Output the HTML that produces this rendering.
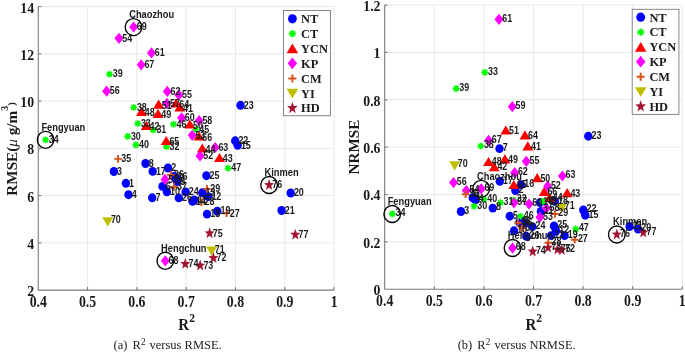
<!DOCTYPE html>
<html><head><meta charset="utf-8"><style>
html,body{margin:0;padding:0;background:#fff;}
body{width:685px;height:352px;overflow:hidden;}
svg{display:block;filter:blur(0.25px);}
</style></head><body>
<svg width="685" height="352" viewBox="0 0 685 352">
<style>
.gr{stroke:#e6e6e6;stroke-width:0.9}
.ax{stroke:#7a7a7a;stroke-width:1.1}
.tk{font-family:"Liberation Serif",serif;font-weight:bold;font-size:13.8px;fill:#1a1a1a}
.yl{font-family:"Liberation Serif",serif;font-weight:bold;font-size:15.2px;fill:#1a1a1a}
.xl{font-family:"Liberation Serif",serif;font-weight:bold;font-size:15px;fill:#1a1a1a}
.cap{font-family:"Liberation Serif",serif;font-size:12.5px;fill:#222}
.lb{font-family:"Liberation Sans",sans-serif;font-weight:bold;font-size:10.9px;fill:#1a1a1a}
.an{font-family:"Liberation Sans",sans-serif;font-weight:bold;font-size:9.3px;fill:#1a1a1a}
.lg{font-family:"Liberation Serif",serif;font-weight:bold;font-size:12.4px;fill:#1a1a1a}
</style>
<rect width="685" height="352" fill="#fff"/>
<line x1="87.56" y1="290.1" x2="87.56" y2="6.6" class="gr"/>
<line x1="136.87" y1="290.1" x2="136.87" y2="6.6" class="gr"/>
<line x1="186.18" y1="290.1" x2="186.18" y2="6.6" class="gr"/>
<line x1="235.48" y1="290.1" x2="235.48" y2="6.6" class="gr"/>
<line x1="284.79" y1="290.1" x2="284.79" y2="6.6" class="gr"/>
<line x1="334.1" y1="290.1" x2="334.1" y2="6.6" class="gr"/>
<line x1="38.25" y1="242.85" x2="334.1" y2="242.85" class="gr"/>
<line x1="38.25" y1="195.6" x2="334.1" y2="195.6" class="gr"/>
<line x1="38.25" y1="148.35" x2="334.1" y2="148.35" class="gr"/>
<line x1="38.25" y1="101.1" x2="334.1" y2="101.1" class="gr"/>
<line x1="38.25" y1="53.85" x2="334.1" y2="53.85" class="gr"/>
<line x1="38.25" y1="6.6" x2="334.1" y2="6.6" class="gr"/>
<line x1="87.56" y1="290.1" x2="87.56" y2="287.1" class="ax"/>
<line x1="136.87" y1="290.1" x2="136.87" y2="287.1" class="ax"/>
<line x1="186.18" y1="290.1" x2="186.18" y2="287.1" class="ax"/>
<line x1="235.48" y1="290.1" x2="235.48" y2="287.1" class="ax"/>
<line x1="284.79" y1="290.1" x2="284.79" y2="287.1" class="ax"/>
<line x1="334.1" y1="290.1" x2="334.1" y2="287.1" class="ax"/>
<line x1="38.25" y1="242.85" x2="41.25" y2="242.85" class="ax"/>
<line x1="38.25" y1="195.6" x2="41.25" y2="195.6" class="ax"/>
<line x1="38.25" y1="148.35" x2="41.25" y2="148.35" class="ax"/>
<line x1="38.25" y1="101.1" x2="41.25" y2="101.1" class="ax"/>
<line x1="38.25" y1="53.85" x2="41.25" y2="53.85" class="ax"/>
<line x1="38.25" y1="6.6" x2="41.25" y2="6.6" class="ax"/>
<path d="M38.25 6.6V290.1H334.1" class="ax" fill="none"/>
<text transform="translate(38.25 306.9) scale(1 1.15)" class="tk" text-anchor="middle">0.4</text>
<text transform="translate(87.56 306.9) scale(1 1.15)" class="tk" text-anchor="middle">0.5</text>
<text transform="translate(136.87 306.9) scale(1 1.15)" class="tk" text-anchor="middle">0.6</text>
<text transform="translate(186.18 306.9) scale(1 1.15)" class="tk" text-anchor="middle">0.7</text>
<text transform="translate(235.48 306.9) scale(1 1.15)" class="tk" text-anchor="middle">0.8</text>
<text transform="translate(284.79 306.9) scale(1 1.15)" class="tk" text-anchor="middle">0.9</text>
<text transform="translate(334.1 306.9) scale(1 1.15)" class="tk" text-anchor="middle">1</text>
<text transform="translate(34.05 296) scale(1 1.08)" class="tk" text-anchor="end">2</text>
<text transform="translate(34.05 248.75) scale(1 1.08)" class="tk" text-anchor="end">4</text>
<text transform="translate(34.05 201.5) scale(1 1.08)" class="tk" text-anchor="end">6</text>
<text transform="translate(34.05 154.25) scale(1 1.08)" class="tk" text-anchor="end">8</text>
<text transform="translate(34.05 107) scale(1 1.08)" class="tk" text-anchor="end">10</text>
<text transform="translate(34.05 59.75) scale(1 1.08)" class="tk" text-anchor="end">12</text>
<text transform="translate(34.05 12.5) scale(1 1.08)" class="tk" text-anchor="end">14</text>
<line x1="434.3" y1="289.2" x2="434.3" y2="5" class="gr"/>
<line x1="483.9" y1="289.2" x2="483.9" y2="5" class="gr"/>
<line x1="533.5" y1="289.2" x2="533.5" y2="5" class="gr"/>
<line x1="583.1" y1="289.2" x2="583.1" y2="5" class="gr"/>
<line x1="632.7" y1="289.2" x2="632.7" y2="5" class="gr"/>
<line x1="682.3" y1="289.2" x2="682.3" y2="5" class="gr"/>
<line x1="384.7" y1="241.83" x2="682.3" y2="241.83" class="gr"/>
<line x1="384.7" y1="194.47" x2="682.3" y2="194.47" class="gr"/>
<line x1="384.7" y1="147.1" x2="682.3" y2="147.1" class="gr"/>
<line x1="384.7" y1="99.73" x2="682.3" y2="99.73" class="gr"/>
<line x1="384.7" y1="52.37" x2="682.3" y2="52.37" class="gr"/>
<line x1="384.7" y1="5" x2="682.3" y2="5" class="gr"/>
<line x1="434.3" y1="289.2" x2="434.3" y2="286.2" class="ax"/>
<line x1="483.9" y1="289.2" x2="483.9" y2="286.2" class="ax"/>
<line x1="533.5" y1="289.2" x2="533.5" y2="286.2" class="ax"/>
<line x1="583.1" y1="289.2" x2="583.1" y2="286.2" class="ax"/>
<line x1="632.7" y1="289.2" x2="632.7" y2="286.2" class="ax"/>
<line x1="682.3" y1="289.2" x2="682.3" y2="286.2" class="ax"/>
<line x1="384.7" y1="241.83" x2="387.7" y2="241.83" class="ax"/>
<line x1="384.7" y1="194.47" x2="387.7" y2="194.47" class="ax"/>
<line x1="384.7" y1="147.1" x2="387.7" y2="147.1" class="ax"/>
<line x1="384.7" y1="99.73" x2="387.7" y2="99.73" class="ax"/>
<line x1="384.7" y1="52.37" x2="387.7" y2="52.37" class="ax"/>
<line x1="384.7" y1="5" x2="387.7" y2="5" class="ax"/>
<path d="M384.7 5V289.2H682.3" class="ax" fill="none"/>
<text transform="translate(384.7 306) scale(1 1.15)" class="tk" text-anchor="middle">0.4</text>
<text transform="translate(434.3 306) scale(1 1.15)" class="tk" text-anchor="middle">0.5</text>
<text transform="translate(483.9 306) scale(1 1.15)" class="tk" text-anchor="middle">0.6</text>
<text transform="translate(533.5 306) scale(1 1.15)" class="tk" text-anchor="middle">0.7</text>
<text transform="translate(583.1 306) scale(1 1.15)" class="tk" text-anchor="middle">0.8</text>
<text transform="translate(632.7 306) scale(1 1.15)" class="tk" text-anchor="middle">0.9</text>
<text transform="translate(682.3 306) scale(1 1.15)" class="tk" text-anchor="middle">1</text>
<text transform="translate(380.5 295.1) scale(1 1.08)" class="tk" text-anchor="end">0</text>
<text transform="translate(380.5 247.73) scale(1 1.08)" class="tk" text-anchor="end">0.2</text>
<text transform="translate(380.5 200.37) scale(1 1.08)" class="tk" text-anchor="end">0.4</text>
<text transform="translate(380.5 153) scale(1 1.08)" class="tk" text-anchor="end">0.6</text>
<text transform="translate(380.5 105.63) scale(1 1.08)" class="tk" text-anchor="end">0.8</text>
<text transform="translate(380.5 58.27) scale(1 1.08)" class="tk" text-anchor="end">1</text>
<text transform="translate(380.5 10.9) scale(1 1.08)" class="tk" text-anchor="end">1.2</text>
<ellipse cx="240.5" cy="105.3" rx="4.2" ry="4.45" fill="#0000ff"/>
<ellipse cx="235.2" cy="140.8" rx="4.2" ry="4.45" fill="#0000ff"/>
<ellipse cx="237.7" cy="145.3" rx="4.2" ry="4.45" fill="#0000ff"/>
<ellipse cx="113.9" cy="171.5" rx="4.2" ry="4.45" fill="#0000ff"/>
<ellipse cx="125.9" cy="183.3" rx="4.2" ry="4.45" fill="#0000ff"/>
<ellipse cx="128.5" cy="194.7" rx="4.2" ry="4.45" fill="#0000ff"/>
<ellipse cx="145.5" cy="163.5" rx="4.2" ry="4.45" fill="#0000ff"/>
<ellipse cx="152.7" cy="171.4" rx="4.2" ry="4.45" fill="#0000ff"/>
<ellipse cx="152.2" cy="197.8" rx="4.2" ry="4.45" fill="#0000ff"/>
<ellipse cx="168" cy="168" rx="4.2" ry="4.45" fill="#0000ff"/>
<ellipse cx="174.4" cy="176.5" rx="4.2" ry="4.45" fill="#0000ff"/>
<ellipse cx="177.2" cy="181.5" rx="4.2" ry="4.45" fill="#0000ff"/>
<ellipse cx="162.5" cy="186.4" rx="4.2" ry="4.45" fill="#0000ff"/>
<ellipse cx="166.9" cy="191.8" rx="4.2" ry="4.45" fill="#0000ff"/>
<ellipse cx="185.6" cy="191.9" rx="4.2" ry="4.45" fill="#0000ff"/>
<ellipse cx="178.8" cy="197.9" rx="4.2" ry="4.45" fill="#0000ff"/>
<ellipse cx="192.5" cy="201.3" rx="4.2" ry="4.45" fill="#0000ff"/>
<ellipse cx="194.2" cy="200" rx="4.2" ry="4.45" fill="#0000ff"/>
<ellipse cx="202.3" cy="192.8" rx="4.2" ry="4.45" fill="#0000ff"/>
<ellipse cx="208.2" cy="196.6" rx="4.2" ry="4.45" fill="#0000ff"/>
<ellipse cx="206.4" cy="175.7" rx="4.2" ry="4.45" fill="#0000ff"/>
<ellipse cx="217.3" cy="211.2" rx="4.2" ry="4.45" fill="#0000ff"/>
<ellipse cx="207" cy="214.1" rx="4.2" ry="4.45" fill="#0000ff"/>
<ellipse cx="281.6" cy="210.5" rx="4.2" ry="4.45" fill="#0000ff"/>
<ellipse cx="290.7" cy="193" rx="4.2" ry="4.45" fill="#0000ff"/>
<ellipse cx="176" cy="178.5" rx="4.2" ry="4.45" fill="#0000ff"/>
<path d="M106.7 74.2H112.3M109.5 71.4V77M107.52 72.22L111.48 76.18M107.52 76.18L111.48 72.22" stroke="#00ff00" stroke-width="1.6" stroke-linecap="round" fill="none"/>
<path d="M130.9 107.5H136.5M133.7 104.7V110.3M131.72 105.52L135.68 109.48M131.72 109.48L135.68 105.52" stroke="#00ff00" stroke-width="1.6" stroke-linecap="round" fill="none"/>
<path d="M134.9 123.5H140.5M137.7 120.7V126.3M135.72 121.52L139.68 125.48M135.72 125.48L139.68 121.52" stroke="#00ff00" stroke-width="1.6" stroke-linecap="round" fill="none"/>
<path d="M150.4 129.9H156M153.2 127.1V132.7M151.22 127.92L155.18 131.88M151.22 131.88L155.18 127.92" stroke="#00ff00" stroke-width="1.6" stroke-linecap="round" fill="none"/>
<path d="M124.9 136.4H130.5M127.7 133.6V139.2M125.72 134.42L129.68 138.38M125.72 138.38L129.68 134.42" stroke="#00ff00" stroke-width="1.6" stroke-linecap="round" fill="none"/>
<path d="M133.1 144.9H138.7M135.9 142.1V147.7M133.92 142.92L137.88 146.88M133.92 146.88L137.88 142.92" stroke="#00ff00" stroke-width="1.6" stroke-linecap="round" fill="none"/>
<path d="M163.6 146.6H169.2M166.4 143.8V149.4M164.42 144.62L168.38 148.58M164.42 148.58L168.38 144.62" stroke="#00ff00" stroke-width="1.6" stroke-linecap="round" fill="none"/>
<path d="M170.6 124.3H176.2M173.4 121.5V127.1M171.42 122.32L175.38 126.28M171.42 126.28L175.38 122.32" stroke="#00ff00" stroke-width="1.6" stroke-linecap="round" fill="none"/>
<path d="M193.2 129.5H198.8M196 126.7V132.3M194.02 127.52L197.98 131.48M194.02 131.48L197.98 127.52" stroke="#00ff00" stroke-width="1.6" stroke-linecap="round" fill="none"/>
<path d="M225.2 168.2H230.8M228 165.4V171M226.02 166.22L229.98 170.18M226.02 170.18L229.98 166.22" stroke="#00ff00" stroke-width="1.6" stroke-linecap="round" fill="none"/>
<path d="M42.8 139.8H48.4M45.6 137V142.6M43.62 137.82L47.58 141.78M43.62 141.78L47.58 137.82" stroke="#00ff00" stroke-width="1.6" stroke-linecap="round" fill="none"/>
<path d="M141.5 106.7L147 115.9L136 115.9Z" fill="#ff0000"/>
<path d="M158.6 99.6L164.1 108.8L153.1 108.8Z" fill="#ff0000"/>
<path d="M158 108.8L163.5 118L152.5 118Z" fill="#ff0000"/>
<path d="M176 98.4L181.5 107.6L170.5 107.6Z" fill="#ff0000"/>
<path d="M179.8 102.4L185.3 111.6L174.3 111.6Z" fill="#ff0000"/>
<path d="M146.3 120.9L151.8 130.1L140.8 130.1Z" fill="#ff0000"/>
<path d="M189.8 119.4L195.3 128.6L184.3 128.6Z" fill="#ff0000"/>
<path d="M166.2 135.9L171.7 145.1L160.7 145.1Z" fill="#ff0000"/>
<path d="M202.3 143.4L207.8 152.6L196.8 152.6Z" fill="#ff0000"/>
<path d="M219.5 152.9L225 162.1L214 162.1Z" fill="#ff0000"/>
<path d="M199 131.4L204.5 140.6L193.5 140.6Z" fill="#ff0000"/>
<path d="M133.6 21.4L138.1 27L133.6 32.6L129.1 27Z" fill="#ff00ff"/>
<path d="M119 32.7L123.5 38.3L119 43.9L114.5 38.3Z" fill="#ff00ff"/>
<path d="M151.5 47.3L156 52.9L151.5 58.5L147 52.9Z" fill="#ff00ff"/>
<path d="M141.2 59.2L145.7 64.8L141.2 70.4L136.7 64.8Z" fill="#ff00ff"/>
<path d="M106.6 85.6L111.1 91.2L106.6 96.8L102.1 91.2Z" fill="#ff00ff"/>
<path d="M167.3 85.8L171.8 91.4L167.3 97L162.8 91.4Z" fill="#ff00ff"/>
<path d="M178.9 89.3L183.4 94.9L178.9 100.5L174.4 94.9Z" fill="#ff00ff"/>
<path d="M166.9 97.8L171.4 103.4L166.9 109L162.4 103.4Z" fill="#ff00ff"/>
<path d="M181.6 112.2L186.1 117.8L181.6 123.4L177.1 117.8Z" fill="#ff00ff"/>
<path d="M199.2 115L203.7 120.6L199.2 126.2L194.7 120.6Z" fill="#ff00ff"/>
<path d="M192.2 129.7L196.7 135.3L192.2 140.9L187.7 135.3Z" fill="#ff00ff"/>
<path d="M200 150.3L204.5 155.9L200 161.5L195.5 155.9Z" fill="#ff00ff"/>
<path d="M215.2 141.9L219.7 147.5L215.2 153.1L210.7 147.5Z" fill="#ff00ff"/>
<path d="M165 173.8L169.5 179.4L165 185L160.5 179.4Z" fill="#ff00ff"/>
<path d="M165.3 255.2L169.8 260.8L165.3 266.4L160.8 260.8Z" fill="#ff00ff"/>
<path d="M114.2 158.9H121.8M118 155.1V162.7" stroke="#d95319" stroke-width="1.9" fill="none"/>
<path d="M167.1 174.9H174.7M170.9 171.1V178.7" stroke="#d95319" stroke-width="1.9" fill="none"/>
<path d="M170.1 186.9H177.7M173.9 183.1V190.7" stroke="#d95319" stroke-width="1.9" fill="none"/>
<path d="M203.2 188.9H210.8M207 185.1V192.7" stroke="#d95319" stroke-width="1.9" fill="none"/>
<path d="M197.6 202.1H205.2M201.4 198.3V205.9" stroke="#d95319" stroke-width="1.9" fill="none"/>
<path d="M222.8 213.3H230.4M226.6 209.5V217.1" stroke="#d95319" stroke-width="1.9" fill="none"/>
<path d="M102.2 217.2L113.2 217.2L107.7 226.4Z" fill="#bfbf00"/>
<path d="M206.1 246.6L217.1 246.6L211.6 255.8Z" fill="#bfbf00"/>
<path d="M209.6 227.25L210.88 231.29L214.66 231.43L211.68 234.07L212.73 238.19L209.6 235.78L206.47 238.19L207.52 234.07L204.54 231.43L208.32 231.29Z" fill="#a2142f"/>
<path d="M185.3 257.85L186.58 261.89L190.36 262.03L187.38 264.67L188.43 268.79L185.3 266.38L182.17 268.79L183.22 264.67L180.24 262.03L184.02 261.89Z" fill="#a2142f"/>
<path d="M200.2 259.45L201.48 263.49L205.26 263.63L202.28 266.27L203.33 270.39L200.2 267.98L197.07 270.39L198.12 266.27L195.14 263.63L198.92 263.49Z" fill="#a2142f"/>
<path d="M213.4 252.05L214.68 256.09L218.46 256.23L215.48 258.87L216.53 262.99L213.4 260.58L210.27 262.99L211.32 258.87L208.34 256.23L212.12 256.09Z" fill="#a2142f"/>
<path d="M269.1 178.95L270.38 182.99L274.16 183.13L271.18 185.77L272.23 189.89L269.1 187.48L265.97 189.89L267.02 185.77L264.04 183.13L267.82 182.99Z" fill="#a2142f"/>
<path d="M295.3 228.65L296.58 232.69L300.36 232.83L297.38 235.47L298.43 239.59L295.3 237.18L292.17 239.59L293.22 235.47L290.24 232.83L294.02 232.69Z" fill="#a2142f"/>
<text transform="translate(243.7 108.5) scale(0.82 1)" class="lb">23</text>
<text transform="translate(238.4 144) scale(0.82 1)" class="lb">22</text>
<text transform="translate(240.9 148.5) scale(0.82 1)" class="lb">15</text>
<text transform="translate(117.1 174.7) scale(0.82 1)" class="lb">3</text>
<text transform="translate(129.1 186.5) scale(0.82 1)" class="lb">1</text>
<text transform="translate(131.7 197.9) scale(0.82 1)" class="lb">4</text>
<text transform="translate(148.7 166.7) scale(0.82 1)" class="lb">8</text>
<text transform="translate(155.9 174.6) scale(0.82 1)" class="lb">17</text>
<text transform="translate(155.4 201) scale(0.82 1)" class="lb">7</text>
<text transform="translate(171.2 171.2) scale(0.82 1)" class="lb">2</text>
<text transform="translate(177.6 179.7) scale(0.82 1)" class="lb">16</text>
<text transform="translate(180.4 184.7) scale(0.82 1)" class="lb">5</text>
<text transform="translate(165.7 189.6) scale(0.82 1)" class="lb">6</text>
<text transform="translate(170.1 195) scale(0.82 1)" class="lb">10</text>
<text transform="translate(188.8 195.1) scale(0.82 1)" class="lb">24</text>
<text transform="translate(182 201.1) scale(0.82 1)" class="lb">26</text>
<text transform="translate(195.7 204.5) scale(0.82 1)" class="lb">14</text>
<text transform="translate(197.4 203.2) scale(0.82 1)" class="lb">11</text>
<text transform="translate(205.5 196) scale(0.82 1)" class="lb">13</text>
<text transform="translate(211.4 199.8) scale(0.82 1)" class="lb">12</text>
<text transform="translate(209.6 178.9) scale(0.82 1)" class="lb">25</text>
<text transform="translate(220.5 214.4) scale(0.82 1)" class="lb">19</text>
<text transform="translate(210.2 217.3) scale(0.82 1)" class="lb">18</text>
<text transform="translate(284.8 213.7) scale(0.82 1)" class="lb">21</text>
<text transform="translate(293.9 196.2) scale(0.82 1)" class="lb">20</text>
<text transform="translate(179.2 181.7) scale(0.82 1)" class="lb">9</text>
<text transform="translate(112.7 77.4) scale(0.82 1)" class="lb">39</text>
<text transform="translate(136.9 110.7) scale(0.82 1)" class="lb">38</text>
<text transform="translate(140.9 126.7) scale(0.82 1)" class="lb">33</text>
<text transform="translate(156.4 133.1) scale(0.82 1)" class="lb">31</text>
<text transform="translate(130.9 139.6) scale(0.82 1)" class="lb">30</text>
<text transform="translate(139.1 148.1) scale(0.82 1)" class="lb">40</text>
<text transform="translate(169.6 149.8) scale(0.82 1)" class="lb">32</text>
<text transform="translate(176.6 127.5) scale(0.82 1)" class="lb">46</text>
<text transform="translate(199.2 132.7) scale(0.82 1)" class="lb">45</text>
<text transform="translate(231.2 171.4) scale(0.82 1)" class="lb">47</text>
<text transform="translate(48.8 143) scale(0.82 1)" class="lb">34</text>
<text transform="translate(144.7 116.03) scale(0.82 1)" class="lb">48</text>
<text transform="translate(161.8 108.93) scale(0.82 1)" class="lb">51</text>
<text transform="translate(161.2 118.13) scale(0.82 1)" class="lb">49</text>
<text transform="translate(179.2 107.73) scale(0.82 1)" class="lb">64</text>
<text transform="translate(183 111.73) scale(0.82 1)" class="lb">41</text>
<text transform="translate(149.5 130.23) scale(0.82 1)" class="lb">42</text>
<text transform="translate(193 128.73) scale(0.82 1)" class="lb">50</text>
<text transform="translate(169.4 145.23) scale(0.82 1)" class="lb">65</text>
<text transform="translate(205.5 152.73) scale(0.82 1)" class="lb">44</text>
<text transform="translate(222.7 162.23) scale(0.82 1)" class="lb">43</text>
<text transform="translate(202.2 140.73) scale(0.82 1)" class="lb">66</text>
<text transform="translate(136.8 30.2) scale(0.82 1)" class="lb">69</text>
<text transform="translate(122.2 41.5) scale(0.82 1)" class="lb">54</text>
<text transform="translate(154.7 56.1) scale(0.82 1)" class="lb">61</text>
<text transform="translate(144.4 68) scale(0.82 1)" class="lb">67</text>
<text transform="translate(109.8 94.4) scale(0.82 1)" class="lb">56</text>
<text transform="translate(170.5 94.6) scale(0.82 1)" class="lb">62</text>
<text transform="translate(182.1 98.1) scale(0.82 1)" class="lb">55</text>
<text transform="translate(170.1 106.6) scale(0.82 1)" class="lb">57</text>
<text transform="translate(184.8 121) scale(0.82 1)" class="lb">60</text>
<text transform="translate(202.4 123.8) scale(0.82 1)" class="lb">58</text>
<text transform="translate(195.4 138.5) scale(0.82 1)" class="lb">53</text>
<text transform="translate(203.2 159.1) scale(0.82 1)" class="lb">52</text>
<text transform="translate(218.4 150.7) scale(0.82 1)" class="lb">63</text>
<text transform="translate(168.2 182.6) scale(0.82 1)" class="lb">59</text>
<text transform="translate(168.5 264) scale(0.82 1)" class="lb">68</text>
<text transform="translate(121.2 162.1) scale(0.82 1)" class="lb">35</text>
<text transform="translate(174.1 178.1) scale(0.82 1)" class="lb">36</text>
<text transform="translate(177.1 190.1) scale(0.82 1)" class="lb">37</text>
<text transform="translate(210.2 192.1) scale(0.82 1)" class="lb">29</text>
<text transform="translate(204.6 205.3) scale(0.82 1)" class="lb">28</text>
<text transform="translate(229.8 216.5) scale(0.82 1)" class="lb">27</text>
<text transform="translate(110.9 223.47) scale(0.82 1)" class="lb">70</text>
<text transform="translate(214.8 252.87) scale(0.82 1)" class="lb">71</text>
<text transform="translate(212.8 236.5) scale(0.82 1)" class="lb">75</text>
<text transform="translate(188.5 267.1) scale(0.82 1)" class="lb">74</text>
<text transform="translate(203.4 268.7) scale(0.82 1)" class="lb">73</text>
<text transform="translate(216.6 261.3) scale(0.82 1)" class="lb">72</text>
<text transform="translate(272.3 188.2) scale(0.82 1)" class="lb">76</text>
<text transform="translate(298.5 237.9) scale(0.82 1)" class="lb">77</text>
<ellipse cx="133.5" cy="27.1" rx="8.3" ry="8.5" fill="none" stroke="#000" stroke-width="1.35"/>
<ellipse cx="45.6" cy="139.8" rx="8.3" ry="8.5" fill="none" stroke="#000" stroke-width="1.35"/>
<ellipse cx="165.3" cy="260.8" rx="8.3" ry="8.5" fill="none" stroke="#000" stroke-width="1.35"/>
<ellipse cx="269.1" cy="185" rx="8.3" ry="8.5" fill="none" stroke="#000" stroke-width="1.35"/>
<text transform="translate(129.2 17.9) scale(1 1.12)" class="an">Chaozhou</text>
<text transform="translate(41.4 130.6) scale(1 1.12)" class="an">Fengyuan</text>
<text transform="translate(161.1 252) scale(1 1.12)" class="an">Hengchun</text>
<text transform="translate(264.5 175.9) scale(1 1.12)" class="an">Kinmen</text>
<ellipse cx="588.3" cy="136.2" rx="4.2" ry="4.45" fill="#0000ff"/>
<ellipse cx="583.3" cy="210" rx="4.2" ry="4.45" fill="#0000ff"/>
<ellipse cx="585.3" cy="215.2" rx="4.2" ry="4.45" fill="#0000ff"/>
<ellipse cx="461" cy="211.5" rx="4.2" ry="4.45" fill="#0000ff"/>
<ellipse cx="472.7" cy="197.8" rx="4.2" ry="4.45" fill="#0000ff"/>
<ellipse cx="475.5" cy="199.9" rx="4.2" ry="4.45" fill="#0000ff"/>
<ellipse cx="492.8" cy="208.1" rx="4.2" ry="4.45" fill="#0000ff"/>
<ellipse cx="499.8" cy="181.3" rx="4.2" ry="4.45" fill="#0000ff"/>
<ellipse cx="499.5" cy="148.6" rx="4.2" ry="4.45" fill="#0000ff"/>
<ellipse cx="515.4" cy="190.5" rx="4.2" ry="4.45" fill="#0000ff"/>
<ellipse cx="521" cy="184.8" rx="4.2" ry="4.45" fill="#0000ff"/>
<ellipse cx="509.8" cy="216.2" rx="4.2" ry="4.45" fill="#0000ff"/>
<ellipse cx="514" cy="230.8" rx="4.2" ry="4.45" fill="#0000ff"/>
<ellipse cx="519.4" cy="222.5" rx="4.2" ry="4.45" fill="#0000ff"/>
<ellipse cx="532.4" cy="226.6" rx="4.2" ry="4.45" fill="#0000ff"/>
<ellipse cx="526.3" cy="236.3" rx="4.2" ry="4.45" fill="#0000ff"/>
<ellipse cx="540" cy="202.6" rx="4.2" ry="4.45" fill="#0000ff"/>
<ellipse cx="540.9" cy="211.4" rx="4.2" ry="4.45" fill="#0000ff"/>
<ellipse cx="551.1" cy="235.6" rx="4.2" ry="4.45" fill="#0000ff"/>
<ellipse cx="556" cy="231" rx="4.2" ry="4.45" fill="#0000ff"/>
<ellipse cx="554" cy="226" rx="4.2" ry="4.45" fill="#0000ff"/>
<ellipse cx="564.6" cy="235.6" rx="4.2" ry="4.45" fill="#0000ff"/>
<ellipse cx="554.9" cy="201.4" rx="4.2" ry="4.45" fill="#0000ff"/>
<ellipse cx="629.6" cy="226.5" rx="4.2" ry="4.45" fill="#0000ff"/>
<ellipse cx="638.1" cy="229.1" rx="4.2" ry="4.45" fill="#0000ff"/>
<ellipse cx="524.2" cy="223.5" rx="4.2" ry="4.45" fill="#0000ff"/>
<path d="M453.3 88.6H458.9M456.1 85.8V91.4M454.12 86.62L458.08 90.58M454.12 90.58L458.08 86.62" stroke="#00ff00" stroke-width="1.6" stroke-linecap="round" fill="none"/>
<path d="M482 72.4H487.6M484.8 69.6V75.2M482.82 70.42L486.78 74.38M482.82 74.38L486.78 70.42" stroke="#00ff00" stroke-width="1.6" stroke-linecap="round" fill="none"/>
<path d="M477.9 146H483.5M480.7 143.2V148.8M478.72 144.02L482.68 147.98M478.72 147.98L482.68 144.02" stroke="#00ff00" stroke-width="1.6" stroke-linecap="round" fill="none"/>
<path d="M389.5 213.9H395.1M392.3 211.1V216.7M390.32 211.92L394.28 215.88M390.32 215.88L394.28 211.92" stroke="#00ff00" stroke-width="1.6" stroke-linecap="round" fill="none"/>
<path d="M481.2 199.2H486.8M484 196.4V202M482.02 197.22L485.98 201.18M482.02 201.18L485.98 197.22" stroke="#00ff00" stroke-width="1.6" stroke-linecap="round" fill="none"/>
<path d="M471.3 206.3H476.9M474.1 203.5V209.1M472.12 204.32L476.08 208.28M472.12 208.28L476.08 204.32" stroke="#00ff00" stroke-width="1.6" stroke-linecap="round" fill="none"/>
<path d="M497.6 202.7H503.2M500.4 199.9V205.5M498.42 200.72L502.38 204.68M498.42 204.68L502.38 200.72" stroke="#00ff00" stroke-width="1.6" stroke-linecap="round" fill="none"/>
<path d="M510.8 200H516.4M513.6 197.2V202.8M511.62 198.02L515.58 201.98M511.62 201.98L515.58 198.02" stroke="#00ff00" stroke-width="1.6" stroke-linecap="round" fill="none"/>
<path d="M517.7 216.3H523.3M520.5 213.5V219.1M518.52 214.32L522.48 218.28M518.52 218.28L522.48 214.32" stroke="#00ff00" stroke-width="1.6" stroke-linecap="round" fill="none"/>
<path d="M540.2 201.4H545.8M543 198.6V204.2M541.02 199.42L544.98 203.38M541.02 203.38L544.98 199.42" stroke="#00ff00" stroke-width="1.6" stroke-linecap="round" fill="none"/>
<path d="M572.9 229.1H578.5M575.7 226.3V231.9M573.72 227.12L577.68 231.08M573.72 231.08L577.68 227.12" stroke="#00ff00" stroke-width="1.6" stroke-linecap="round" fill="none"/>
<path d="M505.8 125.4L511.3 134.6L500.3 134.6Z" fill="#ff0000"/>
<path d="M524.9 130.2L530.4 139.4L519.4 139.4Z" fill="#ff0000"/>
<path d="M527.8 141.2L533.3 150.4L522.3 150.4Z" fill="#ff0000"/>
<path d="M488.5 156.9L494 166.1L483 166.1Z" fill="#ff0000"/>
<path d="M504.9 154.2L510.4 163.4L499.4 163.4Z" fill="#ff0000"/>
<path d="M494.2 162L499.7 171.2L488.7 171.2Z" fill="#ff0000"/>
<path d="M537.2 173.1L542.7 182.3L531.7 182.3Z" fill="#ff0000"/>
<path d="M544.2 186.7L549.7 195.9L538.7 195.9Z" fill="#ff0000"/>
<path d="M567.2 188.1L572.7 197.3L561.7 197.3Z" fill="#ff0000"/>
<path d="M549.6 192.9L555.1 202.1L544.1 202.1Z" fill="#ff0000"/>
<path d="M513.8 179.9L519.3 189.1L508.3 189.1Z" fill="#ff0000"/>
<path d="M499 13.7L503.5 19.3L499 24.9L494.5 19.3Z" fill="#ff00ff"/>
<path d="M512.3 101.1L516.8 106.7L512.3 112.3L507.8 106.7Z" fill="#ff00ff"/>
<path d="M488.6 134.8L493.1 140.4L488.6 146L484.1 140.4Z" fill="#ff00ff"/>
<path d="M453.5 177L458 182.6L453.5 188.2L449 182.6Z" fill="#ff00ff"/>
<path d="M481.2 183.2L485.7 188.8L481.2 194.4L476.7 188.8Z" fill="#ff00ff"/>
<path d="M466.3 185L470.8 190.6L466.3 196.2L461.8 190.6Z" fill="#ff00ff"/>
<path d="M526.3 155.7L530.8 161.3L526.3 166.9L521.8 161.3Z" fill="#ff00ff"/>
<path d="M514.7 167.1L519.2 172.7L514.7 178.3L510.2 172.7Z" fill="#ff00ff"/>
<path d="M562.4 170.4L566.9 176L562.4 181.6L557.9 176Z" fill="#ff00ff"/>
<path d="M547.7 180.6L552.2 186.2L547.7 191.8L543.2 186.2Z" fill="#ff00ff"/>
<path d="M529 198.4L533.5 204L529 209.6L524.5 204Z" fill="#ff00ff"/>
<path d="M546.4 202.6L550.9 208.2L546.4 213.8L541.9 208.2Z" fill="#ff00ff"/>
<path d="M539.9 211.6L544.4 217.2L539.9 222.8L535.4 217.2Z" fill="#ff00ff"/>
<path d="M514 197.2L518.5 202.8L514 208.4L509.5 202.8Z" fill="#ff00ff"/>
<path d="M512.5 242.4L517 248L512.5 253.6L508 248Z" fill="#ff00ff"/>
<path d="M461.8 194.2H469.4M465.6 190.4V198" stroke="#d95319" stroke-width="1.9" fill="none"/>
<path d="M514.2 222.7H521.8M518 218.9V226.5" stroke="#d95319" stroke-width="1.9" fill="none"/>
<path d="M518.2 228.4H525.8M522 224.6V232.2" stroke="#d95319" stroke-width="1.9" fill="none"/>
<path d="M551.2 214H558.8M555 210.2V217.8" stroke="#d95319" stroke-width="1.9" fill="none"/>
<path d="M544.5 242.7H552.1M548.3 238.9V246.5" stroke="#d95319" stroke-width="1.9" fill="none"/>
<path d="M570.9 239.8H578.5M574.7 236V243.6" stroke="#d95319" stroke-width="1.9" fill="none"/>
<path d="M449.1 161.2L460.1 161.2L454.6 170.4Z" fill="#bfbf00"/>
<path d="M556 203.6L567 203.6L561.5 212.8Z" fill="#bfbf00"/>
<path d="M532.7 245.45L533.98 249.49L537.76 249.63L534.78 252.27L535.83 256.39L532.7 253.98L529.57 256.39L530.62 252.27L527.64 249.63L531.42 249.49Z" fill="#a2142f"/>
<path d="M548 241.65L549.28 245.69L553.06 245.83L550.08 248.47L551.13 252.59L548 250.18L544.87 252.59L545.92 248.47L542.94 245.83L546.72 245.69Z" fill="#a2142f"/>
<path d="M557.5 243.45L558.78 247.49L562.56 247.63L559.58 250.27L560.63 254.39L557.5 251.98L554.37 254.39L555.42 250.27L552.44 247.63L556.22 247.49Z" fill="#a2142f"/>
<path d="M561.8 244.05L563.08 248.09L566.86 248.23L563.88 250.87L564.93 254.99L561.8 252.58L558.67 254.99L559.72 250.87L556.74 248.23L560.52 248.09Z" fill="#a2142f"/>
<path d="M616.8 228.45L618.08 232.49L621.86 232.63L618.88 235.27L619.93 239.39L616.8 236.98L613.67 239.39L614.72 235.27L611.74 232.63L615.52 232.49Z" fill="#a2142f"/>
<path d="M643.3 226.45L644.58 230.49L648.36 230.63L645.38 233.27L646.43 237.39L643.3 234.98L640.17 237.39L641.22 233.27L638.24 230.63L642.02 230.49Z" fill="#a2142f"/>
<text transform="translate(591.5 138.5) scale(0.82 1)" class="lb">23</text>
<text transform="translate(586.5 212.3) scale(0.82 1)" class="lb">22</text>
<text transform="translate(588.5 217.5) scale(0.82 1)" class="lb">15</text>
<text transform="translate(464.2 213.8) scale(0.82 1)" class="lb">3</text>
<text transform="translate(475.9 200.1) scale(0.82 1)" class="lb">1</text>
<text transform="translate(478.7 202.2) scale(0.82 1)" class="lb">4</text>
<text transform="translate(496 210.4) scale(0.82 1)" class="lb">8</text>
<text transform="translate(503 183.6) scale(0.82 1)" class="lb">17</text>
<text transform="translate(502.7 150.9) scale(0.82 1)" class="lb">7</text>
<text transform="translate(518.6 192.8) scale(0.82 1)" class="lb">2</text>
<text transform="translate(524.2 187.1) scale(0.82 1)" class="lb">16</text>
<text transform="translate(513 218.5) scale(0.82 1)" class="lb">5</text>
<text transform="translate(517.2 233.1) scale(0.82 1)" class="lb">10</text>
<text transform="translate(522.6 224.8) scale(0.82 1)" class="lb">9</text>
<text transform="translate(535.6 228.9) scale(0.82 1)" class="lb">24</text>
<text transform="translate(529.5 238.6) scale(0.82 1)" class="lb">26</text>
<text transform="translate(543.2 204.9) scale(0.82 1)" class="lb">14</text>
<text transform="translate(544.1 213.7) scale(0.82 1)" class="lb">11</text>
<text transform="translate(554.3 237.9) scale(0.82 1)" class="lb">13</text>
<text transform="translate(559.2 233.3) scale(0.82 1)" class="lb">12</text>
<text transform="translate(557.2 228.3) scale(0.82 1)" class="lb">25</text>
<text transform="translate(567.8 237.9) scale(0.82 1)" class="lb">19</text>
<text transform="translate(558.1 203.7) scale(0.82 1)" class="lb">18</text>
<text transform="translate(632.8 228.8) scale(0.82 1)" class="lb">21</text>
<text transform="translate(641.3 231.4) scale(0.82 1)" class="lb">20</text>
<text transform="translate(527.4 225.8) scale(0.82 1)" class="lb">6</text>
<text transform="translate(459.3 90.9) scale(0.82 1)" class="lb">39</text>
<text transform="translate(488 74.7) scale(0.82 1)" class="lb">33</text>
<text transform="translate(483.9 148.3) scale(0.82 1)" class="lb">38</text>
<text transform="translate(395.5 216.2) scale(0.82 1)" class="lb">34</text>
<text transform="translate(487.2 201.5) scale(0.82 1)" class="lb">40</text>
<text transform="translate(477.3 208.6) scale(0.82 1)" class="lb">30</text>
<text transform="translate(503.6 205) scale(0.82 1)" class="lb">31</text>
<text transform="translate(516.8 202.3) scale(0.82 1)" class="lb">32</text>
<text transform="translate(523.7 218.6) scale(0.82 1)" class="lb">46</text>
<text transform="translate(546.2 203.7) scale(0.82 1)" class="lb">45</text>
<text transform="translate(578.9 231.4) scale(0.82 1)" class="lb">47</text>
<text transform="translate(509 133.83) scale(0.82 1)" class="lb">51</text>
<text transform="translate(528.1 138.63) scale(0.82 1)" class="lb">64</text>
<text transform="translate(531 149.63) scale(0.82 1)" class="lb">41</text>
<text transform="translate(491.7 165.33) scale(0.82 1)" class="lb">48</text>
<text transform="translate(508.1 162.63) scale(0.82 1)" class="lb">49</text>
<text transform="translate(497.4 170.43) scale(0.82 1)" class="lb">42</text>
<text transform="translate(540.4 181.53) scale(0.82 1)" class="lb">50</text>
<text transform="translate(547.4 195.13) scale(0.82 1)" class="lb">66</text>
<text transform="translate(570.4 196.53) scale(0.82 1)" class="lb">43</text>
<text transform="translate(552.8 201.33) scale(0.82 1)" class="lb">44</text>
<text transform="translate(517 188.33) scale(0.82 1)" class="lb">65</text>
<text transform="translate(502.2 21.6) scale(0.82 1)" class="lb">61</text>
<text transform="translate(515.5 109) scale(0.82 1)" class="lb">59</text>
<text transform="translate(491.8 142.7) scale(0.82 1)" class="lb">67</text>
<text transform="translate(456.7 184.9) scale(0.82 1)" class="lb">56</text>
<text transform="translate(484.4 191.1) scale(0.82 1)" class="lb">69</text>
<text transform="translate(469.5 192.9) scale(0.82 1)" class="lb">54</text>
<text transform="translate(529.5 163.6) scale(0.82 1)" class="lb">55</text>
<text transform="translate(517.9 175) scale(0.82 1)" class="lb">62</text>
<text transform="translate(565.6 178.3) scale(0.82 1)" class="lb">63</text>
<text transform="translate(550.9 188.5) scale(0.82 1)" class="lb">52</text>
<text transform="translate(532.2 206.3) scale(0.82 1)" class="lb">60</text>
<text transform="translate(549.6 210.5) scale(0.82 1)" class="lb">58</text>
<text transform="translate(543.1 219.5) scale(0.82 1)" class="lb">53</text>
<text transform="translate(517.2 205.1) scale(0.82 1)" class="lb">57</text>
<text transform="translate(515.7 250.3) scale(0.82 1)" class="lb">68</text>
<text transform="translate(468.8 196.5) scale(0.82 1)" class="lb">35</text>
<text transform="translate(521.2 225) scale(0.82 1)" class="lb">36</text>
<text transform="translate(525.2 230.7) scale(0.82 1)" class="lb">37</text>
<text transform="translate(558.2 216.3) scale(0.82 1)" class="lb">29</text>
<text transform="translate(551.5 245) scale(0.82 1)" class="lb">28</text>
<text transform="translate(577.9 242.1) scale(0.82 1)" class="lb">27</text>
<text transform="translate(457.8 166.57) scale(0.82 1)" class="lb">70</text>
<text transform="translate(564.7 208.97) scale(0.82 1)" class="lb">71</text>
<text transform="translate(535.9 253.8) scale(0.82 1)" class="lb">74</text>
<text transform="translate(551.2 250) scale(0.82 1)" class="lb">73</text>
<text transform="translate(560.7 251.8) scale(0.82 1)" class="lb">75</text>
<text transform="translate(565 252.4) scale(0.82 1)" class="lb">72</text>
<text transform="translate(620 236.8) scale(0.82 1)" class="lb">76</text>
<text transform="translate(646.5 234.8) scale(0.82 1)" class="lb">77</text>
<ellipse cx="481.2" cy="188.8" rx="8.3" ry="8.5" fill="none" stroke="#000" stroke-width="1.35"/>
<ellipse cx="392.2" cy="213.95" rx="8.3" ry="8.5" fill="none" stroke="#000" stroke-width="1.35"/>
<ellipse cx="512.5" cy="248" rx="8.3" ry="8.5" fill="none" stroke="#000" stroke-width="1.35"/>
<ellipse cx="616.8" cy="234.5" rx="8.3" ry="8.5" fill="none" stroke="#000" stroke-width="1.35"/>
<text transform="translate(477 179.5) scale(1 1.12)" class="an">Chaozhou</text>
<text transform="translate(387.7 204.7) scale(1 1.12)" class="an">Fengyuan</text>
<text transform="translate(507.8 239.3) scale(1 1.12)" class="an">Hengchun</text>
<text transform="translate(613.1 225.3) scale(1 1.12)" class="an">Kinmen</text>
<text class="yl" transform="translate(17.4 149) rotate(-90)" text-anchor="middle">RMSE(<tspan font-style="italic" font-weight="normal">&#956;</tspan> g/m<tspan dy="-9" font-size="10px">3</tspan><tspan dy="6.5" font-size="10.5px">)</tspan></text>
<text class="yl" transform="translate(359.3 147) rotate(-90)" text-anchor="middle">NRMSE</text>
<text class="xl" transform="translate(186.6 329.6) scale(1 1.1)" text-anchor="middle">R<tspan dy="-6.5" font-size="11.5px">2</tspan></text>
<text class="xl" transform="translate(533.8 329.6) scale(1 1.1)" text-anchor="middle">R<tspan dy="-6.5" font-size="11.5px">2</tspan></text>
<text class="cap" x="113.5" y="348.9">(a) <tspan dx="1.9">R</tspan><tspan dy="-3.6" dx="0.2" font-size="9.3px">2</tspan><tspan dy="3.6" dx="0.8"> versus RMSE.</tspan></text>
<text class="cap" x="457.7" y="348.9">(b) <tspan dx="1.9">R</tspan><tspan dy="-3.6" dx="0.2" font-size="9.3px">2</tspan><tspan dy="3.6" dx="0.8"> versus NRMSE.</tspan></text>
<rect x="283.5" y="10.5" width="46.9" height="105.2" fill="#fff" stroke="#7a7a7a" stroke-width="0.9"/>
<ellipse cx="292.4" cy="18.8" rx="4.41" ry="4.67" fill="#0000ff"/>
<text x="301" y="23.1" class="lg">NT</text>
<path d="M289.46 33.7H295.34M292.4 30.76V36.64M290.32 31.62L294.48 35.78M290.32 35.78L294.48 31.62" stroke="#00ff00" stroke-width="1.68" stroke-linecap="round" fill="none"/>
<text x="301" y="38" class="lg">CT</text>
<path d="M292.4 43.57L298.17 53.23L286.62 53.23Z" fill="#ff0000"/>
<text x="301" y="52.7" class="lg">YCN</text>
<path d="M292.4 57.42L297.12 63.3L292.4 69.18L287.67 63.3Z" fill="#ff00ff"/>
<text x="301" y="67.6" class="lg">KP</text>
<path d="M288.41 78.4H296.39M292.4 74.41V82.39" stroke="#d95319" stroke-width="1.99" fill="none"/>
<text x="301" y="82.7" class="lg">CM</text>
<path d="M286.62 88.77L298.17 88.77L292.4 98.43Z" fill="#bfbf00"/>
<text x="301" y="97.9" class="lg">YI</text>
<path d="M292.4 101.65L293.75 105.89L297.71 106.04L294.58 108.81L295.68 113.14L292.4 110.61L289.12 113.14L290.22 108.81L287.09 106.04L291.05 105.89Z" fill="#a2142f"/>
<text x="301" y="112.3" class="lg">HD</text>
<rect x="632.2" y="9.3" width="46.7" height="105.1" fill="#fff" stroke="#7a7a7a" stroke-width="0.9"/>
<ellipse cx="640.7" cy="17.2" rx="4.41" ry="4.67" fill="#0000ff"/>
<text x="649.4" y="21.5" class="lg">NT</text>
<path d="M637.76 32.1H643.64M640.7 29.16V35.04M638.62 30.02L642.78 34.18M638.62 34.18L642.78 30.02" stroke="#00ff00" stroke-width="1.68" stroke-linecap="round" fill="none"/>
<text x="649.4" y="36.4" class="lg">CT</text>
<path d="M640.7 41.97L646.48 51.63L634.93 51.63Z" fill="#ff0000"/>
<text x="649.4" y="51.1" class="lg">YCN</text>
<path d="M640.7 55.82L645.43 61.7L640.7 67.58L635.98 61.7Z" fill="#ff00ff"/>
<text x="649.4" y="66" class="lg">KP</text>
<path d="M636.71 76.8H644.69M640.7 72.81V80.79" stroke="#d95319" stroke-width="1.99" fill="none"/>
<text x="649.4" y="81.1" class="lg">CM</text>
<path d="M634.93 87.17L646.48 87.17L640.7 96.83Z" fill="#bfbf00"/>
<text x="649.4" y="96.3" class="lg">YI</text>
<path d="M640.7 100.05L642.05 104.29L646.01 104.44L642.88 107.21L643.98 111.54L640.7 109.01L637.42 111.54L638.52 107.21L635.39 104.44L639.35 104.29Z" fill="#a2142f"/>
<text x="649.4" y="110.7" class="lg">HD</text>
</svg>
</body></html>
